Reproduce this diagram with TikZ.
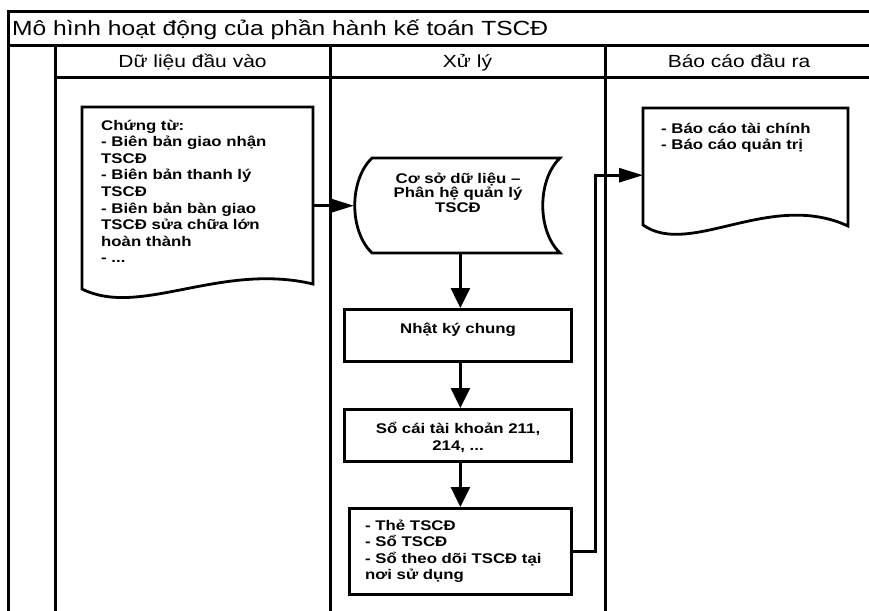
\documentclass[tikz,border=0pt]{standalone}
\usepackage{fontspec}
\setmainfont{Liberation Sans}[FakeStretch=1.2]
\usetikzlibrary{arrows.meta}

\begin{document}
\begin{tikzpicture}[x=1pt,y=-1pt,
  frame/.style={line width=3pt, line cap=rect},
  outline/.style={line width=2.8pt, line join=miter},
  region/.style={inner sep=0pt, anchor=north west},
  box/.style={draw, line width=2.8pt, inner sep=0pt, anchor=north west},
  lbl/.style={inner sep=0pt, font=\bfseries\fontsize{14}{16.6}\selectfont},
  hflow/.style={line width=2.8pt, -{Triangle[length=24pt,width=14pt]}},
  vflow/.style={line width=2.8pt, -{Triangle[length=20pt,width=19pt]}},
  head/.style={inner sep=0pt, anchor=base, font=\fontsize{17.5}{20}\selectfont}
]
\useasboundingbox (0,0) rectangle (869,610);
\fill[white] (0,0) rectangle (869,610);

% swimlane frame
\draw[frame] (8,620) -- (8,12) -- (880,12);
\draw[frame] (8,46) -- (880,46);
\draw[frame] (55,77) -- (880,77);
\draw[frame] (55,46) -- (55,620);
\draw[frame] (330,46) -- (330,620);
\draw[frame] (605,46) -- (605,620);

\node[inner sep=0pt, anchor=base west, font=\fontsize{20.5}{24}\selectfont] (title) at (12,35.5)
  {Mô hình hoạt động của phần hành kế toán TSCĐ};
\node[head] (h1) at (192.5,67) {Dữ liệu đầu vào};
\node[head] (h2) at (467.5,67) {Xử lý};
\node[head] (h3) at (739,67) {Báo cáo đầu ra};

% input documents
\node[region, minimum width=231pt, minimum height=191pt] (src) at (82,107) {};
\draw[outline] (82,289) -- (82,107) -- (313,107) -- (313,284)
  .. controls (220,262) and (140,318) .. (82,289) -- cycle;
\node[lbl, anchor=base west, text width=205pt, align=left] (srctext) at (101,130)
  {Chứng từ:\\
   - Biên bản giao nhận\\
   TSCĐ\\
   - Biên bản thanh lý\\
   TSCĐ\\
   - Biên bản bàn giao\\
   TSCĐ sửa chữa lớn\\
   hoàn thành\\
   - ...};

% stored data
\node[region, minimum width=206pt, minimum height=95pt] (db) at (354,158) {};
\draw[outline] (372,158) -- (560,158)
  .. controls (537,180) and (537,231) .. (560,253) -- (372,253)
  .. controls (349,231) and (349,180) .. (372,158) -- cycle;
\node[lbl, anchor=base, text width=180pt, align=center, font=\bfseries\fontsize{14}{14.5}\selectfont] (dbtext) at (458,183)
  {Cơ sở dữ liệu –\\ Phân hệ quản lý\\ TSCĐ};

% processing steps
\node[box, minimum width=227pt, minimum height=52pt] (nkc) at (343,308) {};
\node[lbl, anchor=base] (nkctext) at (458,333) {Nhật ký chung};

\node[box, minimum width=227pt, minimum height=52pt] (sc) at (343,408) {};
\node[lbl, anchor=base, text width=210pt, align=center, font=\bfseries\fontsize{14}{17}\selectfont] (sctext) at (458,433)
  {Sổ cái tài khoản 211,\\ 214, ...};

\node[box, minimum width=222pt, minimum height=86pt] (the) at (348,507) {};
\node[lbl, anchor=base west, text width=200pt, align=left] (thetext) at (365,530)
  {- Thẻ TSCĐ\\
   - Sổ TSCĐ\\
   - Sổ theo dõi TSCĐ tại\\
   nơi sử dụng};

% output reports
\node[region, minimum width=205pt, minimum height=134pt] (rep) at (643,108) {};
\draw[outline] (643,225) -- (643,108) -- (848,108) -- (848,226)
  .. controls (770,190) and (690,258) .. (643,225) -- cycle;
\node[lbl, anchor=base west, text width=180pt, align=left] (reptext) at (661,133)
  {- Báo cáo tài chính\\
   - Báo cáo quản trị};

% connectors, all on the axis of the record box
\draw[hflow] (src.east |- db.west) -- (db.west);
\draw[vflow] (db.south -| the.north) -- (nkc.north -| the.north);
\draw[vflow] (nkc.south -| the.north) -- (sc.north -| the.north);
\draw[vflow] (sc.south -| the.north) -- (the.north);
\draw[hflow] (the.east) -- ++(23,0) |- (rep.west);
\end{tikzpicture}
\end{document}
